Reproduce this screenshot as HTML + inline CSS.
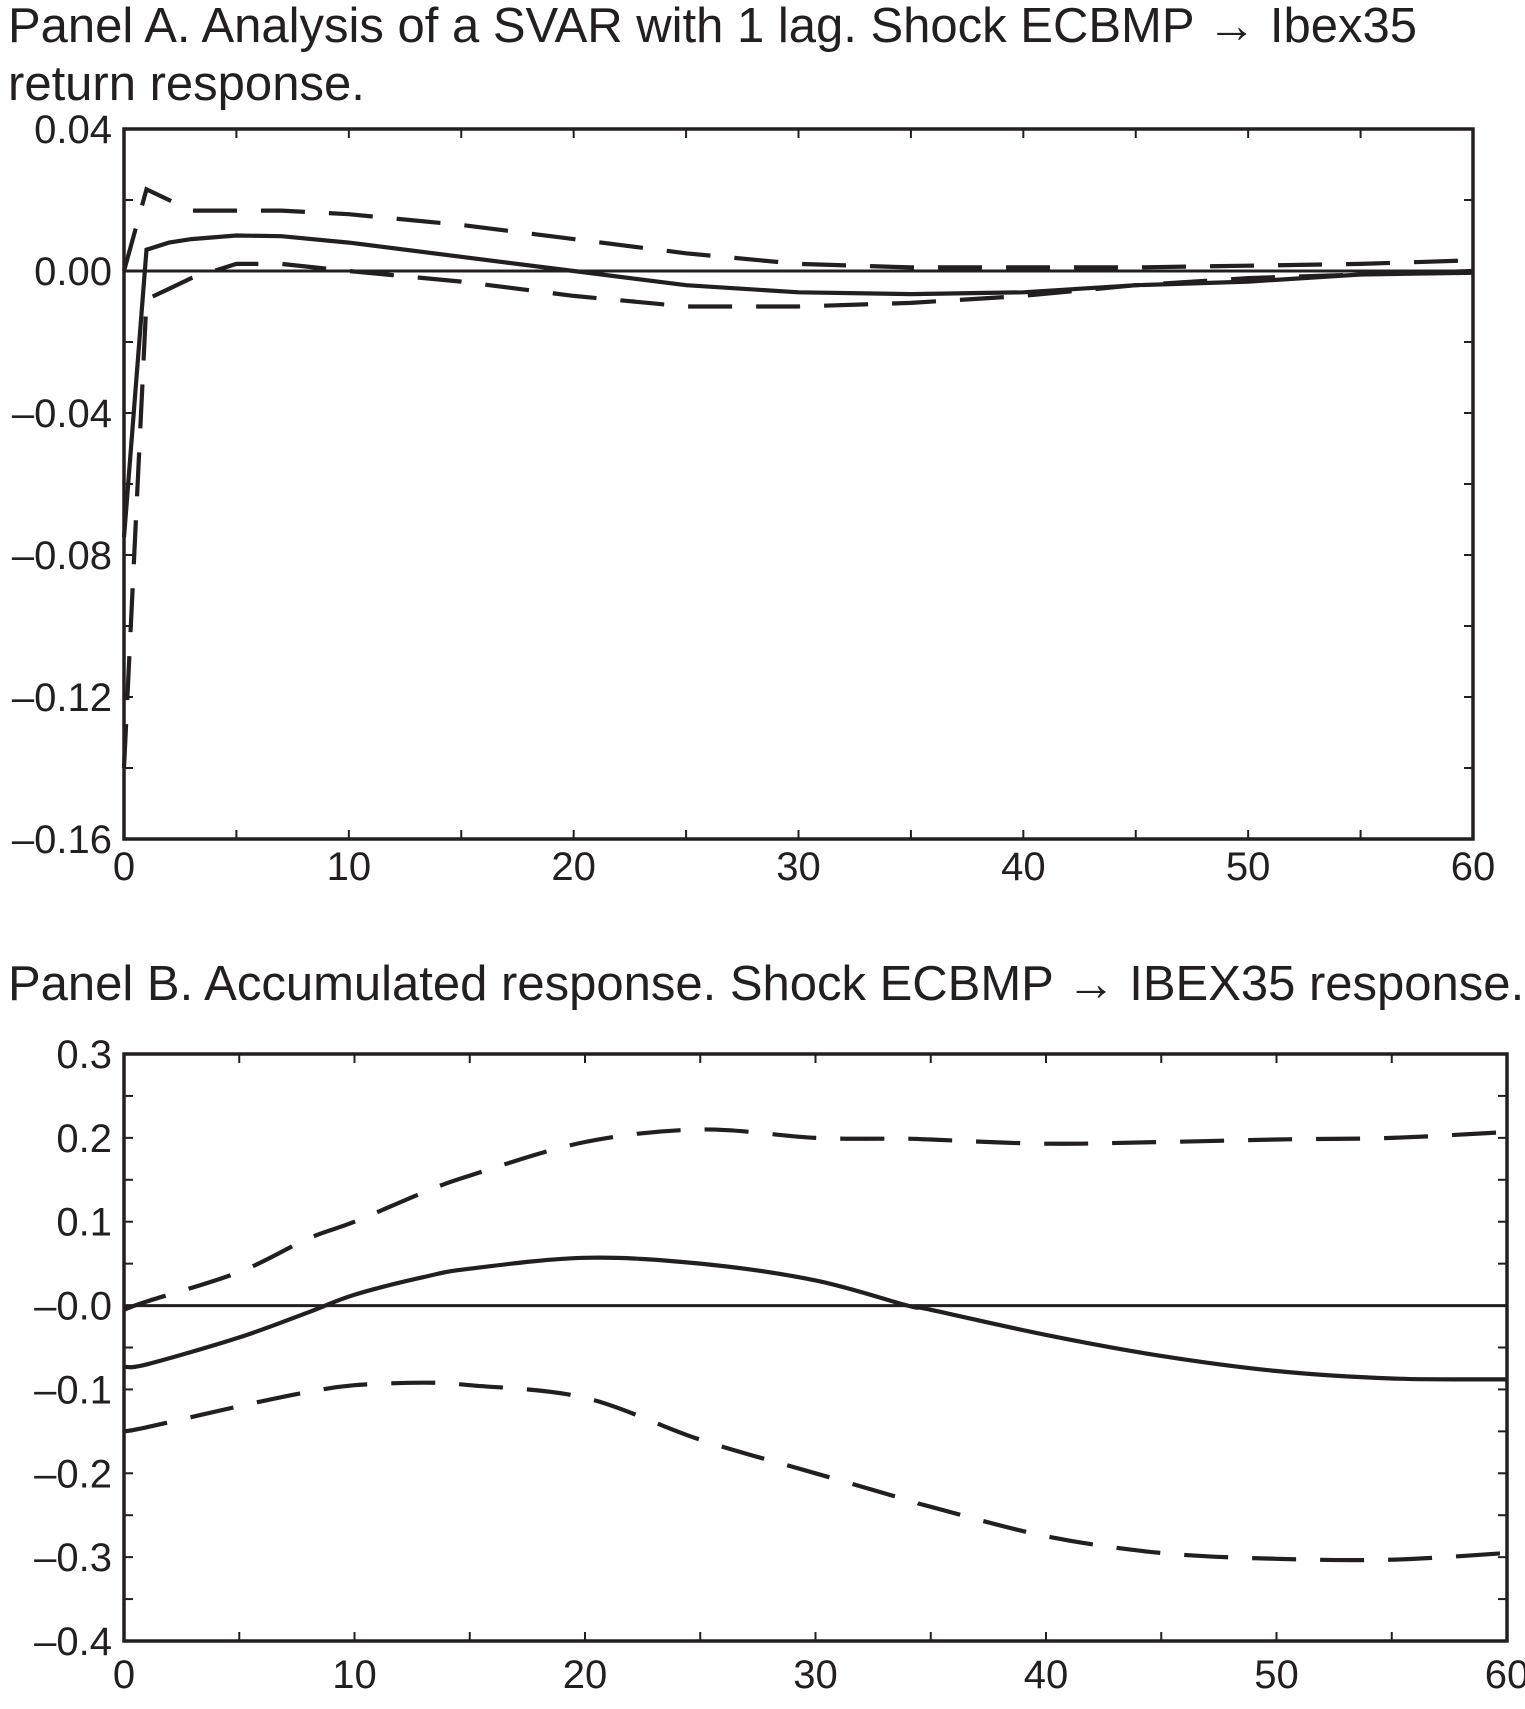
<!DOCTYPE html>
<html><head><meta charset="utf-8"><style>
body{margin:0;background:#fff;}
svg text{font-family:"Liberation Sans",Arial,sans-serif;fill:#231f20;}
</style></head><body>
<svg id="s" width="1525" height="1704" viewBox="0 0 1525 1704">
<text x="8" y="42" font-size="49">Panel A. Analysis of a SVAR with 1 lag. Shock ECBMP → Ibex35</text>
<text x="8" y="100" font-size="49">return response.</text>
<text x="8" y="1000" font-size="49">Panel B. Accumulated response. Shock ECBMP → IBEX35 response.</text>
</svg>
<script>
const xA=[0,1,2,3,5,7,10,15,20,25,30,35,40,45,50,55,60];
const aMid=[-0.075,0.006,0.008,0.009,0.010,0.0098,0.008,0.004,0.0,-0.004,-0.006,-0.0065,-0.006,-0.004,-0.003,-0.001,-0.0005];
const aUp=[0.0,0.023,0.02,0.017,0.017,0.017,0.016,0.013,0.009,0.005,0.002,0.001,0.001,0.001,0.0015,0.002,0.003];
const aLo=[-0.14,-0.008,-0.005,-0.002,0.002,0.002,0.0,-0.003,-0.007,-0.01,-0.01,-0.009,-0.007,-0.004,-0.002,-0.001,0.0];
const xB=[0,1,5,8,10,13,15,20,25,30,34,35,40,45,50,55,60];
const bMid=[-0.073,-0.07,-0.038,-0.008,0.013,0.034,0.044,0.057,0.05,0.03,0.0,-0.005,-0.035,-0.06,-0.078,-0.087,-0.088];
const bUp=[-0.005,0.005,0.04,0.08,0.1,0.135,0.155,0.195,0.21,0.2,0.199,0.198,0.193,0.195,0.198,0.2,0.207];
const bLo=[-0.15,-0.145,-0.12,-0.103,-0.095,-0.092,-0.095,-0.11,-0.16,-0.2,-0.232,-0.24,-0.275,-0.295,-0.302,-0.303,-0.295];
const ticksA=[0.04,0,-0.04,-0.08,-0.12,-0.16];
const ticksALab=["0.04","0.00","–0.04","–0.08","–0.12","–0.16"];
const ticksB=[0.3,0.2,0.1,0,-0.1,-0.2,-0.3,-0.4];
const ticksBLab=["0.3","0.2","0.1","–0.0","–0.1","–0.2","–0.3","–0.4"];
const xTicks=[0,10,20,30,40,50,60];

const NS="http://www.w3.org/2000/svg";
const svg=document.getElementById('s');
function mk(t,a,p){const e=document.createElementNS(NS,t);for(const k in a)e.setAttribute(k,a[k]);(p||svg).appendChild(e);return e;}

function pathD(pts,smooth){
  if(!smooth) return pts.map((p,i)=>(i?'L':'M')+p[0].toFixed(1)+','+p[1].toFixed(1)).join(' ');
  let d='M'+pts[0][0].toFixed(1)+','+pts[0][1].toFixed(1);
  for(let i=0;i<pts.length-1;i++){
    const p0=pts[Math.max(0,i-1)],p1=pts[i],p2=pts[i+1],p3=pts[Math.min(pts.length-1,i+2)];
    const c1=[p1[0]+(p2[0]-p0[0])/6,p1[1]+(p2[1]-p0[1])/6];
    const c2=[p2[0]-(p3[0]-p1[0])/6,p2[1]-(p3[1]-p1[1])/6];
    d+=' C'+c1.map(v=>v.toFixed(1))+' '+c2.map(v=>v.toFixed(1))+' '+p2.map(v=>v.toFixed(1));
  }
  return d;
}

function panel(id,L,T,R,B,ymax,ymin,yt,ytl,xs,series,xLabY,smooth){
  const g=mk('g',{});
  
  
  const sx=v=>L+(v/60)*(R-L);
  const sy=v=>T+(ymax-v)/(ymax-ymin)*(B-T);
  const ax=mk('rect',{x:L,y:T,width:R-L,height:B-T,fill:'none',stroke:'#231f20','stroke-width':3.5},g);
  
  
  for(let v=0;v<=60;v+=5){
    mk('line',{x1:sx(v),x2:sx(v),y1:B,y2:B-9,stroke:'#231f20','stroke-width':2},g);
    mk('line',{x1:sx(v),x2:sx(v),y1:T,y2:T+9,stroke:'#231f20','stroke-width':2},g);
  }
  const step=yt[0]-yt[1];
  for(let i=0;i<yt.length*2-1;i++){
    const v=yt[0]-i*step/2;
    mk('line',{x1:L,x2:L+9,y1:sy(v),y2:sy(v),stroke:'#231f20','stroke-width':2},g);
    mk('line',{x1:R,x2:R-9,y1:sy(v),y2:sy(v),stroke:'#231f20','stroke-width':2},g);
  }
  yt.forEach((v,i)=>{
    const t=mk('text',{x:L-12,y:sy(v)+14,'font-size':40,'text-anchor':'end'},g);
    t.textContent=ytl[i];
    
    
  });
  xTicks.forEach(v=>{
    const t=mk('text',{x:sx(v),y:xLabY,'font-size':40,'text-anchor':'middle'},g);
    t.textContent=v;
    
    
  });
  const z=mk('line',{x1:L,x2:R,y1:sy(0),y2:sy(0),stroke:'#231f20','stroke-width':3},g);
  
  
  series.forEach(s=>{
    const pts=s.v.map((v,i)=>[sx(xs[i]),sy(v)]);
    const p=mk('path',{d:pathD(pts,smooth),fill:'none',stroke:'#231f20','stroke-width':4.2,'stroke-dasharray':s.dash?'44,24':'none'},g);
    
    
  });
}
panel('panel-a-chart',124,129,1473,839,0.04,-0.16,ticksA,ticksALab,xA,
 [{v:aMid,name:'irf-line'},{v:aUp,dash:1,name:'upper-band'},{v:aLo,dash:1,name:'lower-band'}],880,false);
panel('panel-b-chart',124,1054,1507,1641,0.3,-0.4,ticksB,ticksBLab,xB,
 [{v:bMid,name:'accumulated-irf-line'},{v:bUp,dash:1,name:'upper-band'},{v:bLo,dash:1,name:'lower-band'}],1688,true);
</script>
</body></html>
